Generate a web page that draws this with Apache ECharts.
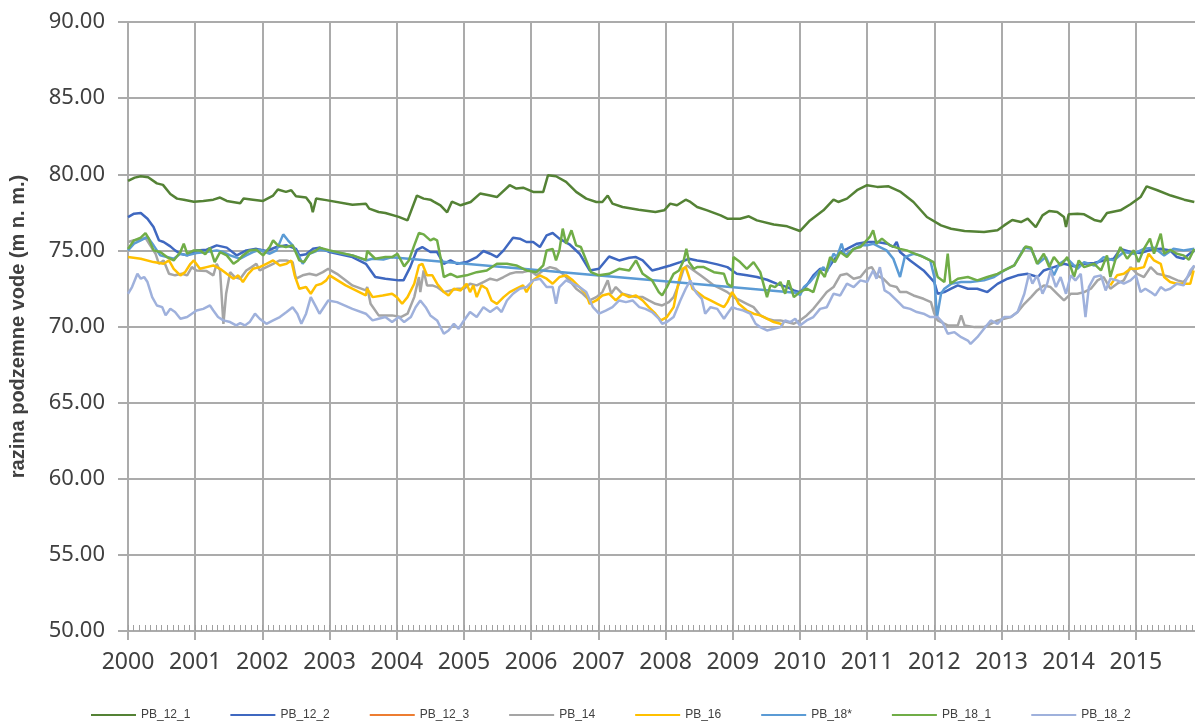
<!DOCTYPE html>
<html>
<head>
<meta charset="utf-8">
<script src="https://cdn.jsdelivr.net/npm/echarts@6/dist/echarts.min.js"></script>
<style>
html,body{margin:0;padding:0;background:#fff;}
#chart{width:1195px;height:724px;}
</style>
</head>
<body>
<div id="chart"></div>
<script>
// ---- data (decimal year, m a.s.l.) ----
var seriesNames = ['PB_12_1','PB_12_2','PB_12_3','PB_14','PB_16','PB_18*','PB_18_1','PB_18_2'];
var yTicks = [50, 55, 60, 65, 70, 75, 80, 85, 90];
var xTickYears = [2000,2001,2002,2003,2004,2005,2006,2007,2008,2009,2010,2011,2012,2013,2014,2015];

var pb12_1 = [[2000.0,79.56],[2000.1,79.78],[2000.19,79.87],[2000.3,79.8],[2000.43,79.4],[2000.52,79.3],[2000.63,78.7],[2000.73,78.4],[2000.83,78.33],[2000.98,78.2],[2001.12,78.25],[2001.27,78.33],[2001.37,78.47],[2001.47,78.25],[2001.67,78.1],[2001.72,78.4],[2001.86,78.33],[2002.01,78.25],[2002.16,78.6],[2002.23,79.0],[2002.35,78.84],[2002.43,78.95],[2002.5,78.55],[2002.65,78.47],[2002.72,78.07],[2002.75,77.5],[2002.8,78.4],[2002.95,78.3],[2003.34,78.0],[2003.54,78.07],[2003.59,77.74],[2003.73,77.52],[2003.83,77.45],[2004.03,77.2],[2004.16,76.97],[2004.3,78.6],[2004.4,78.4],[2004.5,78.33],[2004.55,78.2],[2004.65,77.96],[2004.75,77.5],[2004.82,78.2],[2004.95,77.96],[2005.1,78.18],[2005.24,78.73],[2005.39,78.6],[2005.49,78.5],[2005.68,79.28],[2005.78,79.06],[2005.88,79.12],[2006.03,78.84],[2006.18,78.84],[2006.25,79.93],[2006.37,79.87],[2006.52,79.5],[2006.67,78.84],[2006.82,78.4],[2006.97,78.18],[2007.06,78.18],[2007.14,78.6],[2007.21,78.07],[2007.36,77.85],[2007.6,77.67],[2007.85,77.52],[2007.98,77.63],[2008.07,78.07],[2008.17,77.96],[2008.3,78.33],[2008.37,78.18],[2008.47,77.85],[2008.62,77.63],[2008.82,77.3],[2008.92,77.08],[2009.11,77.08],[2009.24,77.24],[2009.36,76.97],[2009.61,76.7],[2009.81,76.58],[2010.0,76.27],[2010.15,76.97],[2010.35,77.63],[2010.5,78.33],[2010.57,78.18],[2010.7,78.4],[2010.85,78.95],[2011.0,79.28],[2011.15,79.17],[2011.32,79.21],[2011.5,78.84],[2011.69,78.18],[2011.89,77.19],[2012.1,76.64],[2012.25,76.42],[2012.45,76.27],[2012.74,76.2],[2012.94,76.32],[2013.04,76.64],[2013.16,77.0],[2013.29,76.86],[2013.39,77.08],[2013.51,76.53],[2013.61,77.3],[2013.71,77.59],[2013.83,77.52],[2013.93,77.19],[2013.96,76.53],[2014.0,77.37],[2014.13,77.41],[2014.23,77.37],[2014.38,77.0],[2014.48,76.9],[2014.57,77.45],[2014.77,77.63],[2014.92,78.03],[2015.07,78.5],[2015.16,79.2],[2015.32,78.95],[2015.52,78.6],[2015.72,78.33],[2015.87,78.18]];

var pb12_2 = [[2000.0,77.19],[2000.09,77.41],[2000.19,77.45],[2000.29,77.08],[2000.38,76.53],[2000.46,75.66],[2000.53,75.55],[2000.63,75.26],[2000.7,75.0],[2000.78,74.78],[2000.88,74.67],[2001.02,75.0],[2001.17,75.04],[2001.32,75.33],[2001.47,75.18],[2001.62,74.67],[2001.76,75.0],[2001.91,75.1],[2002.06,74.96],[2002.21,75.22],[2002.36,75.33],[2002.5,75.1],[2002.55,74.67],[2002.65,74.74],[2002.75,75.1],[2002.85,75.18],[2003.0,74.89],[2003.34,74.56],[2003.54,74.12],[2003.68,73.25],[2003.83,73.14],[2004.03,73.03],[2004.1,73.03],[2004.2,73.9],[2004.3,75.04],[2004.38,75.22],[2004.5,74.89],[2004.6,74.89],[2004.7,74.12],[2004.8,74.34],[2004.9,74.12],[2005.04,74.23],[2005.19,74.56],[2005.29,74.96],[2005.39,74.78],[2005.49,74.56],[2005.59,75.0],[2005.73,75.83],[2005.83,75.77],[2005.93,75.55],[2006.03,75.55],[2006.13,75.22],[2006.23,75.99],[2006.32,76.14],[2006.42,75.77],[2006.57,75.4],[2006.72,74.78],[2006.87,73.68],[2007.01,73.79],[2007.16,74.6],[2007.31,74.34],[2007.46,74.52],[2007.56,74.56],[2007.66,74.34],[2007.8,73.68],[2007.9,73.79],[2008.07,74.01],[2008.22,74.23],[2008.35,74.45],[2008.47,74.34],[2008.62,74.23],[2008.77,74.08],[2008.92,73.9],[2009.06,73.46],[2009.21,73.36],[2009.36,73.25],[2009.51,73.07],[2009.66,72.8],[2009.81,72.59],[2009.91,72.37],[2010.0,72.26],[2010.1,72.7],[2010.2,73.36],[2010.3,73.79],[2010.4,73.68],[2010.5,74.34],[2010.6,74.89],[2010.7,75.1],[2010.85,75.44],[2011.0,75.55],[2011.15,75.55],[2011.3,75.44],[2011.39,75.22],[2011.44,75.55],[2011.49,74.89],[2011.64,74.34],[2011.84,73.68],[2012.0,72.92],[2012.05,72.15],[2012.15,72.26],[2012.25,72.48],[2012.35,72.7],[2012.5,72.48],[2012.64,72.48],[2012.79,72.26],[2012.94,72.8],[2013.09,73.14],[2013.24,73.36],[2013.39,73.46],[2013.54,73.25],[2013.63,73.68],[2013.78,73.9],[2013.93,74.12],[2014.08,73.95],[2014.23,74.12],[2014.38,74.17],[2014.52,74.34],[2014.67,74.45],[2014.77,75.1],[2014.92,74.89],[2015.07,74.82],[2015.22,75.04],[2015.37,75.1],[2015.51,75.0],[2015.61,74.56],[2015.71,74.45],[2015.81,74.82],[2015.87,74.96]];

var pb12_3 = [];

var pb14 = [[2000.0,75.55],[2000.09,75.66],[2000.19,75.7],[2000.26,75.83],[2000.33,75.33],[2000.41,74.78],[2000.46,74.12],[2000.53,74.34],[2000.61,73.46],[2000.7,73.36],[2000.8,73.46],[2000.88,73.36],[2000.95,73.9],[2001.02,73.68],[2001.17,73.64],[2001.27,73.36],[2001.32,74.12],[2001.37,73.68],[2001.42,70.17],[2001.46,72.15],[2001.52,73.57],[2001.59,73.25],[2001.67,73.14],[2001.76,73.68],[2001.84,73.9],[2001.91,74.12],[2001.96,73.68],[2002.06,73.9],[2002.16,74.12],[2002.26,74.34],[2002.36,74.34],[2002.45,74.23],[2002.5,73.14],[2002.6,73.36],[2002.7,73.46],[2002.8,73.36],[2002.9,73.57],[2002.98,73.79],[2003.11,73.46],[2003.34,72.7],[2003.54,72.37],[2003.56,72.59],[2003.61,71.49],[2003.73,70.73],[2003.83,70.73],[2003.93,70.73],[2004.06,70.62],[2004.16,70.84],[2004.26,71.93],[2004.33,73.25],[2004.35,72.26],[2004.4,73.68],[2004.45,72.7],[2004.53,72.7],[2004.6,72.59],[2004.7,72.26],[2004.8,72.37],[2004.9,72.48],[2005.0,72.48],[2005.09,72.81],[2005.19,72.7],[2005.29,72.92],[2005.39,73.14],[2005.49,73.03],[2005.59,73.25],[2005.68,73.46],[2005.78,73.57],[2005.88,73.57],[2005.98,73.68],[2006.08,73.36],[2006.18,73.68],[2006.28,73.9],[2006.37,73.79],[2006.47,73.46],[2006.57,73.03],[2006.67,72.48],[2006.77,72.15],[2006.87,71.71],[2006.97,71.93],[2007.06,72.26],[2007.14,73.03],[2007.19,72.15],[2007.26,72.59],[2007.36,72.15],[2007.46,72.04],[2007.56,71.93],[2007.66,71.93],[2007.75,71.71],[2007.85,71.49],[2007.95,71.38],[2008.05,71.6],[2008.12,71.93],[2008.2,72.81],[2008.27,73.79],[2008.32,74.0],[2008.42,73.68],[2008.52,73.36],[2008.62,73.03],[2008.72,72.7],[2008.82,72.48],[2008.92,72.26],[2009.01,71.93],[2009.11,71.71],[2009.21,71.49],[2009.31,71.27],[2009.41,70.73],[2009.51,70.51],[2009.61,70.4],[2009.71,70.4],[2009.81,70.29],[2009.91,70.18],[2010.0,70.4],[2010.1,70.73],[2010.2,71.16],[2010.3,71.71],[2010.4,72.26],[2010.5,72.59],[2010.6,73.36],[2010.7,73.46],[2010.8,73.14],[2010.9,73.25],[2011.0,73.79],[2011.07,73.9],[2011.14,73.36],[2011.24,73.14],[2011.34,72.7],[2011.44,72.59],[2011.49,72.26],[2011.59,72.26],[2011.69,72.04],[2011.84,71.82],[2011.95,71.6],[2012.0,70.85],[2012.05,70.4],[2012.2,70.07],[2012.35,70.07],[2012.4,70.73],[2012.45,70.07],[2012.6,69.96],[2012.74,69.96],[2012.84,70.18],[2012.94,70.4],[2013.04,70.51],[2013.14,70.62],[2013.24,70.95],[2013.34,71.49],[2013.44,71.93],[2013.53,72.37],[2013.63,72.7],[2013.73,72.59],[2013.83,72.15],[2013.93,71.71],[2014.03,72.15],[2014.13,72.15],[2014.23,72.26],[2014.33,72.48],[2014.43,73.03],[2014.52,73.25],[2014.62,72.48],[2014.72,72.81],[2014.82,73.03],[2014.92,73.9],[2015.02,73.46],[2015.12,73.25],[2015.22,73.9],[2015.32,73.46],[2015.42,73.36],[2015.51,73.25],[2015.62,73.03],[2015.71,72.92],[2015.81,73.46],[2015.87,74.01]];

var pb16 = [[2000.0,74.56],[2000.19,74.45],[2000.38,74.23],[2000.53,74.12],[2000.61,74.34],[2000.68,73.79],[2000.78,73.36],[2000.85,73.57],[2000.93,74.12],[2000.98,74.34],[2001.07,73.79],[2001.17,73.9],[2001.27,74.01],[2001.37,73.79],[2001.47,73.46],[2001.57,73.14],[2001.64,73.36],[2001.71,72.92],[2001.79,73.46],[2001.86,73.79],[2001.96,73.9],[2002.06,74.12],[2002.16,74.34],[2002.26,74.01],[2002.36,74.12],[2002.43,74.34],[2002.48,73.36],[2002.55,72.48],[2002.65,72.59],[2002.72,72.15],[2002.8,72.7],[2002.88,72.81],[2002.95,73.03],[2003.0,73.36],[2003.24,72.7],[2003.54,72.04],[2003.56,72.48],[2003.64,71.93],[2003.79,72.04],[2003.93,72.15],[2004.0,71.93],[2004.08,71.49],[2004.16,71.93],[2004.26,72.81],[2004.33,74.01],[2004.38,74.12],[2004.45,73.36],[2004.53,73.36],[2004.6,72.81],[2004.7,72.26],[2004.77,72.04],[2004.85,72.48],[2004.95,72.37],[2005.04,72.81],[2005.09,72.26],[2005.14,72.7],[2005.19,71.93],[2005.26,72.7],[2005.34,72.48],[2005.41,71.71],[2005.49,71.49],[2005.59,71.93],[2005.68,72.26],[2005.78,72.48],[2005.88,72.7],[2005.93,72.26],[2006.03,73.03],[2006.13,73.36],[2006.23,73.14],[2006.32,72.81],[2006.42,73.25],[2006.52,73.36],[2006.62,73.03],[2006.72,72.59],[2006.82,72.15],[2006.87,71.49],[2006.97,71.71],[2007.06,72.04],[2007.16,72.15],[2007.26,71.71],[2007.36,72.15],[2007.46,71.93],[2007.56,72.04],[2007.66,71.71],[2007.75,71.27],[2007.85,70.84],[2007.93,70.4],[2008.02,70.62],[2008.12,71.27],[2008.2,73.03],[2008.25,73.79],[2008.3,73.9],[2008.35,73.25],[2008.4,72.48],[2008.47,72.26],[2008.57,71.93],[2008.67,71.71],[2008.77,71.49],[2008.87,71.27],[2008.92,71.6],[2008.99,72.26],[2009.04,71.93],[2009.09,71.49],[2009.21,71.05],[2009.31,70.84],[2009.41,70.73],[2009.51,70.51],[2009.61,70.29],[2009.71,70.18],[2009.76,70.13],[null,null],[2014.62,72.7],[2014.72,73.36],[2014.82,73.46],[2014.92,73.79],[2015.02,73.79],[2015.12,73.9],[2015.19,74.78],[2015.27,74.34],[2015.37,74.12],[2015.42,73.25],[2015.51,72.92],[2015.61,72.81],[2015.71,72.81],[2015.81,72.81],[2015.86,73.68]];

var pb18 = [[2000.0,75.0],[2000.09,75.44],[2000.19,75.66],[2000.29,75.88],[2000.38,75.33],[2000.48,74.67],[2000.58,74.56],[2000.68,74.45],[2000.78,74.78],[2000.88,74.67],[2001.02,74.82],[2001.17,74.89],[2001.32,75.0],[2001.42,74.89],[2001.52,74.67],[2001.67,74.45],[2001.76,74.67],[2001.86,74.89],[2001.96,75.04],[2002.11,74.78],[2002.21,75.0],[2002.31,76.05],[2002.38,75.66],[2002.45,75.33],[2002.55,74.56],[2002.6,74.12],[2002.7,74.78],[2002.85,75.04],[2003.0,74.96],[2003.34,74.67],[2003.54,74.34],[2003.64,74.45],[2003.8,74.4],[2003.92,74.55],[2009.98,72.2],[2010.0,72.04],[2010.06,72.6],[2010.15,72.92],[2010.25,73.46],[2010.35,73.9],[2010.4,73.57],[2010.5,74.78],[2010.55,74.56],[2010.62,75.44],[2010.67,74.67],[2010.77,75.0],[2010.9,75.33],[2011.0,75.33],[2011.09,75.44],[2011.19,75.22],[2011.29,75.0],[2011.39,74.45],[2011.49,73.25],[2011.56,74.56],[2011.69,74.78],[2011.79,74.67],[2011.94,74.34],[2012.0,73.25],[2012.04,70.6],[2012.1,72.15],[2012.15,72.48],[2012.25,72.8],[2012.4,72.92],[2012.54,72.92],[2012.74,73.03],[2012.89,73.25],[2013.04,73.68],[2013.19,74.01],[2013.34,75.18],[2013.44,75.1],[2013.54,74.12],[2013.66,74.56],[2013.78,73.36],[2013.86,74.12],[2013.98,74.45],[2014.13,73.79],[2014.23,74.23],[2014.38,74.01],[2014.52,74.56],[2014.67,74.34],[2014.82,74.89],[2014.97,74.78],[2015.12,75.1],[2015.27,75.18],[2015.42,74.67],[2015.56,75.1],[2015.71,75.0],[2015.87,75.1]];

var pb18_1 = [[2000.0,75.1],[2000.09,75.66],[2000.19,75.83],[2000.26,76.14],[2000.31,75.77],[2000.38,75.0],[2000.48,74.89],[2000.58,74.56],[2000.68,74.34],[2000.78,74.89],[2000.83,75.44],[2000.88,74.78],[2000.98,75.0],[2001.07,75.0],[2001.15,74.74],[2001.22,75.18],[2001.29,74.23],[2001.37,74.89],[2001.47,74.67],[2001.57,74.12],[2001.64,74.34],[2001.71,74.67],[2001.81,75.0],[2001.91,75.04],[2002.01,74.67],[2002.11,75.22],[2002.16,75.66],[2002.23,75.33],[2002.35,75.22],[2002.45,75.33],[2002.55,74.34],[2002.62,74.23],[2002.7,74.78],[2002.8,75.0],[2002.85,75.18],[2003.0,75.0],[2003.34,74.67],[2003.54,74.38],[2003.56,74.96],[2003.68,74.45],[2003.83,74.56],[2003.93,74.56],[2004.01,74.78],[2004.11,73.95],[2004.18,74.34],[2004.26,75.33],[2004.33,76.14],[2004.4,76.05],[2004.5,75.66],[2004.55,75.77],[2004.6,75.66],[2004.65,74.56],[2004.7,73.25],[2004.8,73.46],[2004.9,73.25],[2005.04,73.36],[2005.19,73.57],[2005.34,73.68],[2005.49,74.12],[2005.64,74.12],[2005.78,74.01],[2005.93,73.68],[2006.08,73.57],[2006.18,74.01],[2006.23,75.0],[2006.32,75.1],[2006.37,74.34],[2006.42,75.0],[2006.47,76.43],[2006.52,75.44],[2006.6,76.32],[2006.67,75.33],[2006.74,75.22],[2006.82,74.34],[2006.89,73.57],[2007.01,73.36],[2007.16,73.46],[2007.31,73.79],[2007.46,73.68],[2007.56,74.34],[2007.66,73.46],[2007.8,73.03],[2007.9,72.26],[2007.95,72.04],[2008.02,72.59],[2008.12,73.46],[2008.2,73.68],[2008.27,74.34],[2008.31,75.1],[2008.35,74.23],[2008.42,73.79],[2008.47,73.9],[2008.57,73.9],[2008.72,73.57],[2008.87,73.46],[2008.92,72.81],[2008.99,72.59],[2009.01,74.56],[2009.11,74.23],[2009.21,73.79],[2009.31,74.23],[2009.41,73.57],[2009.51,71.93],[2009.56,72.7],[2009.63,72.59],[2009.71,72.92],[2009.78,72.15],[2009.83,73.03],[2009.91,71.93],[2010.0,72.26],[2010.1,72.48],[2010.2,72.26],[2010.3,73.68],[2010.37,73.25],[2010.45,74.56],[2010.52,74.23],[2010.6,74.89],[2010.7,74.56],[2010.8,75.1],[2010.9,75.22],[2011.04,75.88],[2011.09,76.32],[2011.14,75.44],[2011.22,75.77],[2011.34,75.33],[2011.49,75.1],[2011.59,75.0],[2011.69,74.82],[2011.84,74.56],[2011.99,74.23],[2012.05,73.25],[2012.15,72.92],[2012.2,74.78],[2012.24,72.81],[2012.35,73.14],[2012.5,73.25],[2012.64,73.03],[2012.79,73.25],[2012.94,73.46],[2013.04,73.68],[2013.19,74.01],[2013.31,74.89],[2013.36,75.26],[2013.44,75.18],[2013.53,74.12],[2013.63,74.78],[2013.71,73.9],[2013.78,74.56],[2013.88,74.01],[2013.98,74.56],[2014.08,73.25],[2014.15,74.34],[2014.23,73.9],[2014.38,74.12],[2014.48,73.68],[2014.57,74.67],[2014.62,73.25],[2014.7,74.45],[2014.77,75.22],[2014.87,74.45],[2014.97,75.0],[2015.04,74.23],[2015.12,75.1],[2015.21,75.77],[2015.27,74.78],[2015.37,76.1],[2015.42,74.78],[2015.51,75.04],[2015.61,74.78],[2015.71,74.67],[2015.79,74.38],[2015.87,75.1]];

var pb18_2 = [[2000.0,72.15],[2000.06,72.59],[2000.14,73.46],[2000.19,73.14],[2000.24,73.25],[2000.29,72.92],[2000.36,71.93],[2000.43,71.38],[2000.51,71.27],[2000.56,70.73],[2000.63,71.16],[2000.7,70.95],[2000.78,70.51],[2000.88,70.62],[2000.95,70.84],[2001.02,71.05],[2001.12,71.16],[2001.22,71.38],[2001.27,71.05],[2001.34,70.62],[2001.42,70.4],[2001.52,70.29],[2001.61,70.07],[2001.67,70.22],[2001.74,70.07],[2001.81,70.29],[2001.89,70.84],[2001.96,70.51],[2002.06,70.18],[2002.16,70.4],[2002.26,70.62],[2002.36,70.95],[2002.45,71.27],[2002.52,70.84],[2002.58,70.18],[2002.65,70.84],[2002.72,71.93],[2002.8,71.27],[2002.85,70.84],[2002.98,71.71],[2003.11,71.6],[2003.34,71.16],[2003.54,70.84],[2003.64,70.4],[2003.73,70.51],[2003.83,70.62],[2003.93,70.29],[2004.03,70.62],[2004.11,70.29],[2004.21,70.62],[2004.28,71.27],[2004.35,71.71],[2004.43,71.27],[2004.5,70.73],[2004.6,70.4],[2004.7,69.52],[2004.77,69.74],[2004.85,70.18],[2004.92,69.85],[2005.0,70.4],[2005.09,70.95],[2005.19,70.62],[2005.29,71.27],[2005.39,70.95],[2005.49,71.27],[2005.56,70.95],[2005.64,71.71],[2005.73,72.15],[2005.83,72.48],[2005.93,72.59],[2006.03,73.03],[2006.13,73.14],[2006.23,72.59],[2006.32,72.59],[2006.37,71.49],[2006.42,72.59],[2006.52,73.03],[2006.62,72.81],[2006.72,72.59],[2006.82,72.26],[2006.92,71.27],[2007.01,70.84],[2007.11,71.05],[2007.21,71.27],[2007.31,71.71],[2007.41,71.6],[2007.51,71.71],[2007.61,71.27],[2007.7,71.16],[2007.8,70.95],[2007.9,70.51],[2007.95,70.18],[2008.02,70.29],[2008.12,70.62],[2008.22,71.71],[2008.3,72.48],[2008.37,73.03],[2008.42,72.48],[2008.47,72.15],[2008.54,71.82],[2008.59,70.84],[2008.67,71.27],[2008.77,71.16],[2008.87,70.51],[2008.92,70.84],[2008.99,71.27],[2009.06,71.16],[2009.16,71.05],[2009.26,70.84],[2009.34,70.18],[2009.41,69.96],[2009.51,69.74],[2009.61,69.85],[2009.71,69.96],[2009.78,70.4],[2009.86,70.29],[2009.93,70.51],[2010.0,70.07],[2010.1,70.4],[2010.2,70.62],[2010.3,71.16],[2010.4,71.27],[2010.5,72.15],[2010.6,72.04],[2010.7,72.81],[2010.8,72.59],[2010.9,73.03],[2011.0,72.92],[2011.09,73.68],[2011.14,73.14],[2011.19,73.9],[2011.26,72.37],[2011.34,72.15],[2011.44,71.71],[2011.54,71.27],[2011.64,71.16],[2011.74,70.95],[2011.84,70.84],[2011.94,70.62],[2012.05,70.62],[2012.12,70.29],[2012.2,69.52],[2012.3,69.63],[2012.4,69.3],[2012.5,69.08],[2012.54,68.86],[2012.64,69.3],[2012.74,69.85],[2012.84,70.4],[2012.94,70.18],[2013.04,70.62],[2013.14,70.62],[2013.24,70.95],[2013.34,72.15],[2013.41,73.46],[2013.46,72.81],[2013.53,73.36],[2013.61,72.15],[2013.68,72.81],[2013.73,73.68],[2013.81,72.59],[2013.88,73.25],[2013.96,72.15],[2014.03,73.36],[2014.1,73.03],[2014.18,73.46],[2014.25,70.62],[2014.3,72.59],[2014.38,73.25],[2014.48,73.36],[2014.55,72.37],[2014.62,73.14],[2014.72,73.03],[2014.82,72.81],[2014.92,73.03],[2015.0,73.36],[2015.07,72.26],[2015.14,72.48],[2015.22,72.26],[2015.29,72.04],[2015.37,72.59],[2015.44,72.37],[2015.51,72.48],[2015.61,72.81],[2015.71,72.7],[2015.81,73.68],[2015.87,74.01]];

var seriesData = [pb12_1, pb12_2, pb12_3, pb14, pb16, pb18, pb18_1, pb18_2];
var seriesColors = ['#548235','#3F68C0','#ED7D31','#A5A5A5','#FFC000','#5B9BD5','#70AD47','#9FB1DC'];

var X_MIN = 2000, X_MAX = 2015.88;
var textColor = '#404040';
var gridColor = '#ABABAB';

var chart = echarts.init(document.getElementById('chart'), null, {renderer: 'canvas'});
var series = seriesNames.map(function (name, i) {
  return {
    name: name,
    type: 'line',
    data: seriesData[i],
    showSymbol: false,
    symbol: 'none',
    connectNulls: false,
    lineStyle: {width: 2.5, color: seriesColors[i]},
    itemStyle: {color: seriesColors[i]},
    emphasis: {disabled: true},
    animation: false,
    clip: true
  };
});

chart.setOption({
  backgroundColor: '#ffffff',
  animation: false,
  grid: {left: 128, right: 0, top: 22, bottom: 93, containLabel: false, outerBoundsMode: 'none'},
  legend: {
    data: seriesNames,
    left: 86,
    top: 704,
    itemWidth: 45,
    itemHeight: 12,
    itemGap: 40,
    icon: 'path://M0,5 L45,5 L45,7 L0,7 Z',
    textStyle: {fontFamily: 'Liberation Sans, sans-serif', fontSize: 12, color: textColor}
  },
  xAxis: [{
    type: 'value',
    min: X_MIN,
    max: X_MAX,
    interval: 1,
    axisLine: {show: true, lineStyle: {color: gridColor, width: 2}},
    axisTick: {show: true, inside: false, length: 9, lineStyle: {color: gridColor, width: 2}, customValues: xTickYears},
    axisLabel: {
      show: true, margin: 20, color: textColor, fontSize: 23,
      fontFamily: 'Noto Sans, sans-serif',
      customValues: xTickYears,
      formatter: function (v) { return String(Math.round(v)); }
    },
    splitLine: {show: true, lineStyle: {color: gridColor, width: 2}},
    minorTick: {show: false}
  }, {
    type: 'value',
    min: X_MIN,
    max: X_MAX,
    interval: 1,
    position: 'bottom',
    axisLine: {show: false},
    axisTick: {show: true, inside: true, length: 6, lineStyle: {color: '#A0A0A0', width: 1}},
    minorTick: {show: true, splitNumber: 12, length: 6, lineStyle: {color: '#A0A0A0', width: 1}},
    axisLabel: {show: false},
    splitLine: {show: false}
  }],
  yAxis: {
    type: 'value',
    min: 50,
    max: 90,
    interval: 5,
    name: 'razina podzemne vode (m n. m.)',
    nameLocation: 'middle',
    nameGap: 100,
    nameRotate: 90,
    nameTextStyle: {fontFamily: 'Liberation Sans, sans-serif', fontWeight: 'bold', fontSize: 20, color: textColor},
    axisLine: {show: true, lineStyle: {color: gridColor, width: 2}},
    axisTick: {show: true, inside: false, length: 10, lineStyle: {color: gridColor, width: 2}},
    axisLabel: {
      margin: 23, color: textColor, fontSize: 22,
      fontFamily: 'Noto Sans, sans-serif',
      customValues: yTicks,
      formatter: function (v) { return v.toFixed(2); }
    },
    splitLine: {show: true, lineStyle: {color: gridColor, width: 2}}
  },
  series: series
});
</script>
</body>
</html>
